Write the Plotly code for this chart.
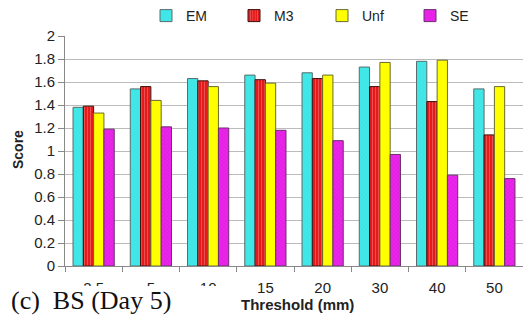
import plotly.graph_objects as go

categories = ["2.5", "5", "10", "15", "20", "30", "40", "50"]
em = [1.38, 1.54, 1.63, 1.66, 1.68, 1.73, 1.78, 1.54]
m3 = [1.39, 1.56, 1.61, 1.62, 1.63, 1.56, 1.43, 1.14]
unf = [1.33, 1.44, 1.56, 1.59, 1.66, 1.77, 1.79, 1.56]
se = [1.19, 1.21, 1.20, 1.18, 1.09, 0.97, 0.79, 0.76]
y_ticks = [0, 0.2, 0.4, 0.6, 0.8, 1, 1.2, 1.4, 1.6, 1.8, 2]

W, H = 523, 316
L, R, T, B = 65, 0, 36, 50
pw, ph = W - L - R, H - T - B

def px_x(p):
    return (p - L) / pw

def px_y(p):
    return (H - B - p) / ph

fig = go.Figure()
fig.add_bar(name="EM", x=categories, y=em,
            marker=dict(color="#3DE6E6", line=dict(color="#5a6a6a", width=1),
                        pattern=dict(shape="x", size=3, solidity=0.15, fgcolor="#7FF2F2", bgcolor="#3DE6E6")))
fig.add_bar(name="M3", x=categories, y=m3,
            marker=dict(color="#E51A1A", line=dict(color="#3a1010", width=1),
                        pattern=dict(shape="|", size=3, solidity=0.3, fgcolor="#F59090", bgcolor="#E51A1A")))
fig.add_bar(name="Unf", x=categories, y=unf,
            marker=dict(color="#FFFF00", line=dict(color="#6a6a30", width=1)))
fig.add_bar(name="SE", x=categories, y=se,
            marker=dict(color="#E61EE6", line=dict(color="#6a306a", width=1),
                        pattern=dict(shape="x", size=3, solidity=0.15, fgcolor="#F27FF2", bgcolor="#E61EE6")))

fig.update_layout(
    width=W, height=H,
    margin=dict(l=L, r=R, t=T, b=B, autoexpand=False),
    paper_bgcolor="white", plot_bgcolor="white",
    barmode="group", bargap=0.28, bargroupgap=0,
    font=dict(family="Liberation Sans, Arial, sans-serif", size=15, color="#222222"),
    showlegend=True,
    legend=dict(orientation="h", x=px_x(146), xanchor="left", y=px_y(16), yanchor="middle",
                entrywidth=43, entrywidthmode="pixels", font=dict(size=14),
                bgcolor="rgba(0,0,0,0)"),
    xaxis=dict(type="category", showline=True, linecolor="#888888", linewidth=1,
               ticks="outside", ticklen=5, tickcolor="#888888", tickson="boundaries",
               ticklabelstandoff=8,
               showgrid=False, tickfont=dict(size=15)),
    yaxis=dict(range=[0, 2], tickvals=y_ticks, ticktext=[f"{v:g}" for v in y_ticks],
               showline=True, linecolor="#888888", linewidth=1,
               ticks="outside", ticklen=6, tickcolor="#888888",
               showgrid=True, gridcolor="#BBBBBB", gridwidth=1,
               zeroline=False, tickfont=dict(size=15)),
)

fig.add_annotation(text="<b>Score</b>", textangle=-90, xref="paper", yref="paper",
                   x=px_x(18), y=px_y(150), xanchor="center", yanchor="middle",
                   showarrow=False, font=dict(size=14))
fig.add_annotation(text="<b>Threshold (mm)</b>", xref="paper", yref="paper",
                   x=px_x(297), y=px_y(304), xanchor="center", yanchor="middle",
                   showarrow=False, font=dict(size=15))

# white box hiding the lower parts of the first tick labels
fig.add_annotation(text=" ", xref="paper", yref="paper",
                   x=px_x(0), y=px_y(286), xanchor="left", yanchor="top",
                   width=228, height=30, showarrow=False, bgcolor="white",
                   borderpad=0, borderwidth=0)
fig.add_annotation(text="(c)  BS (Day 5)", xref="paper", yref="paper",
                   x=px_x(10), y=px_y(316), xanchor="left", yanchor="bottom",
                   showarrow=False, borderpad=0,
                   font=dict(family="Liberation Serif, Times New Roman, serif", size=26, color="#111111"))

fig.write_html("out.html", config={"displayModeBar": False},
               post_script="document.body.style.margin='0';")
